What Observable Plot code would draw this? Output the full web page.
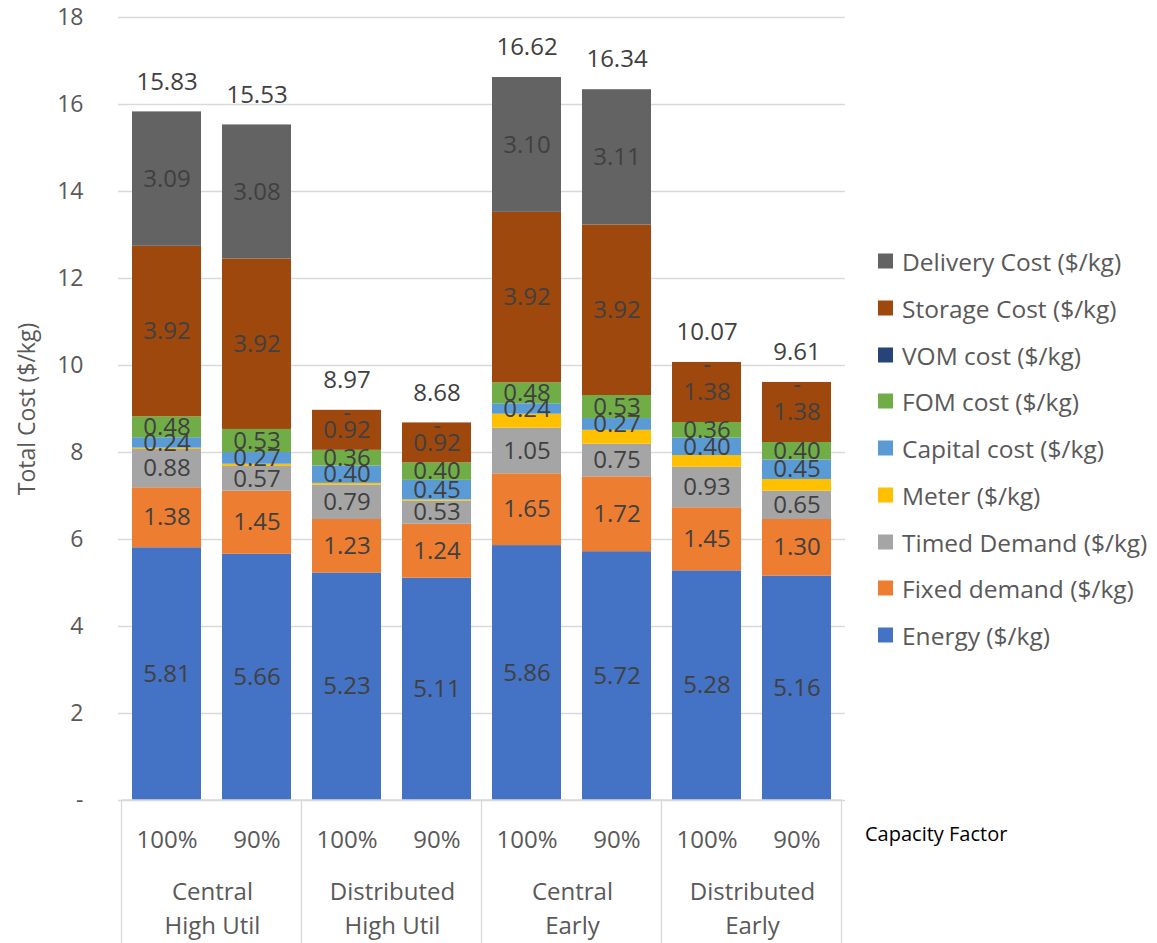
<!DOCTYPE html>
<html>
<head>
<meta charset="utf-8">
<script src="https://cdn.jsdelivr.net/npm/d3@7"></script>
<script src="https://cdn.jsdelivr.net/npm/@observablehq/plot@0.6"></script>
<style>
  html, body { margin: 0; padding: 0; background: #fff; }
  #wrap { position: relative; width: 1157px; height: 943px; font-family: "Open Sans", sans-serif; }
  #wrap svg { position: absolute; left: 0; top: 0; }
  .legend { position: absolute; left: 878px; top: 0; }
  .legend .item { position: absolute; left: 0; white-space: nowrap; display: flex; align-items: center; font-size: 24.5px; color: #595959; transform: translateY(-50%); }
  .legend .sw { width: 15px; height: 15px; margin-right: 9px; flex: none; }
  .cf { position: absolute; left: 865px; top: 820px; font-size: 20px; color: #000; white-space: nowrap; }
</style>
</head>
<body>
<div id="wrap"></div>
<script>
// ---- data ----
const groups = ["Central\nHigh Util", "Distributed\nHigh Util", "Central\nEarly", "Distributed\nEarly"];
const capacityFactors = ["100%", "90%"];
const seriesNames = ["Energy ($/kg)", "Fixed demand ($/kg)", "Timed Demand ($/kg)", "Meter ($/kg)", "Capital cost ($/kg)", "FOM cost ($/kg)", "VOM cost ($/kg)", "Storage Cost ($/kg)", "Delivery Cost ($/kg)"];
const seriesColors = ["#4472C4", "#ED7D31", "#A5A5A5", "#FFC000", "#5B9BD5", "#70AD47", "#264478", "#9E480E", "#636363"];

const energy       = [5.81, 5.66, 5.23, 5.11, 5.86, 5.72, 5.28, 5.16];
const fixedDemand  = [1.38, 1.45, 1.23, 1.24, 1.65, 1.72, 1.45, 1.30];
const timedDemand  = [0.88, 0.57, 0.79, 0.53, 1.05, 0.75, 0.93, 0.65];
const meter        = [0.03, 0.05, 0.04, 0.03, 0.32, 0.32, 0.27, 0.27];
const capitalCost  = [0.24, 0.27, 0.40, 0.45, 0.24, 0.27, 0.40, 0.45];
const fomCost      = [0.48, 0.53, 0.36, 0.40, 0.48, 0.53, 0.36, 0.40];
const vomCost      = [0, 0, 0, 0, 0, 0, 0, 0];
const storageCost  = [3.92, 3.92, 0.92, 0.92, 3.92, 3.92, 1.38, 1.38];
const deliveryCost = [3.09, 3.08, 0, 0, 3.10, 3.11, 0, 0];
const totals       = [15.83, 15.53, 8.97, 8.68, 16.62, 16.34, 10.07, 9.61];
const yTicks = [0, 2, 4, 6, 8, 10, 12, 14, 16, 18];

// ---- build tables ----
const seriesValues = [energy, fixedDemand, timedDemand, meter, capitalCost, fomCost, vomCost, storageCost, deliveryCost];
const unlabeled = new Set(["Meter ($/kg)", "VOM cost ($/kg)"]);
const barKeys = groups.flatMap(g => capacityFactors.map(c => g + "|" + c));
const rows = [];
seriesNames.forEach((s, si) => {
  barKeys.forEach((b, bi) => rows.push({bar: b, series: s, value: seriesValues[si][bi]}));
});
const fmt = d3.format(".2f");
const valueText = d => (unlabeled.has(d.series) || d.value === 0) ? "" : fmt(d.value);
const dashText = d => (!unlabeled.has(d.series) && d.value === 0) ? "-" : "";
const totalRows = barKeys.map((b, i) => ({bar: b, total: totals[i]}));
const groupRows = groups.map((g, i) => ({bar: barKeys[i * 2], label: g}));

const W = 1157, H = 943, ML = 118, MR = 312, MT = 17, MB = 143;
const step = (W - ML - MR) / barKeys.length;
const fontSize = 23;

const plot = Plot.plot({
  width: W, height: H,
  marginLeft: ML, marginRight: MR, marginTop: MT, marginBottom: MB,
  style: {fontFamily: "'Open Sans', sans-serif", fontSize: fontSize + "px", color: "#595959", background: "transparent", overflow: "visible"},
  x: {domain: barKeys, paddingInner: 0.23, paddingOuter: 0.115, axis: null},
  y: {domain: [0, 18], axis: null},
  color: {domain: seriesNames, range: seriesColors},
  marks: [
    Plot.gridY(yTicks, {stroke: "#d9d9d9", strokeOpacity: 1, strokeWidth: 1.3}),
    Plot.axisY(yTicks, {tickSize: 0, tickPadding: 35, fontSize: fontSize, fill: "#595959", label: null,
      tickFormat: d => d === 0 ? "-" : String(d)}),
    Plot.text(["Total Cost ($/kg)"], {frameAnchor: "left", textAnchor: "middle", rotate: -90, dx: -91, fill: "#595959", fontSize: 23}),
    Plot.barY(rows, Plot.stackY({x: "bar", y: "value", fill: "series", order: null})),
    Plot.text(rows, Plot.stackY({x: "bar", y: "value", z: "series", order: null, text: valueText, fill: "#404040", fontSize: 24})),
    Plot.text(rows, Plot.stackY({x: "bar", y: "value", z: "series", order: null, text: dashText, dy: 3, fill: "#404040", fontSize: 24})),
    Plot.text(totalRows, {x: "bar", y: "total", text: d => fmt(d.total), dy: -30, fill: "#404040", fontSize: 24}),
    Plot.axisX({tickSize: 0, tickPadding: 30, fontSize: 24, fill: "#595959", label: null,
      tickFormat: d => d.split("|")[1]}),
    Plot.text(groupRows, {x: "bar", text: "label", frameAnchor: "bottom", dx: step / 2, dy: 133, lineHeight: 1.38, fill: "#595959", fontSize: 24})
  ]
});

// category axis box lines, from the x scale
const xs = plot.scale("x");
const bw = xs.bandwidth;
const st = xs.step !== undefined ? xs.step : step;
const gap = st - bw;
const svg = d3.select(plot);
const sepX = [];
for (let i = 0; i <= barKeys.length; i += 2) {
  if (i < barKeys.length) sepX.push(xs.apply(barKeys[i]) - gap / 2);
  else sepX.push(xs.apply(barKeys[i - 1]) + bw + gap / 2);
}
const gLines = svg.append("g").attr("stroke", "#d9d9d9").attr("stroke-width", 1.3);
const y0 = plot.scale("y").apply(0);
gLines.append("line").attr("x1", sepX[0]).attr("x2", sepX[sepX.length - 1]).attr("y1", y0).attr("y2", y0);
sepX.forEach(x => gLines.append("line").attr("x1", x).attr("x2", x).attr("y1", y0).attr("y2", H));

const wrap = document.getElementById("wrap");
wrap.appendChild(plot);

// legend (reverse stacking order)
const legend = document.createElement("div");
legend.className = "legend";
const legendTop = 261, legendStep = 46.75;
seriesNames.slice().reverse().forEach((s, i) => {
  const item = document.createElement("div");
  item.className = "item";
  item.style.top = (legendTop + i * legendStep) + "px";
  const sw = document.createElement("span");
  sw.className = "sw";
  sw.style.background = seriesColors[seriesNames.indexOf(s)];
  const t = document.createElement("span");
  t.textContent = s;
  item.appendChild(sw); item.appendChild(t);
  legend.appendChild(item);
});
wrap.appendChild(legend);

const cf = document.createElement("div");
cf.className = "cf";
cf.textContent = "Capacity Factor";
wrap.appendChild(cf);
</script>
</body>
</html>
